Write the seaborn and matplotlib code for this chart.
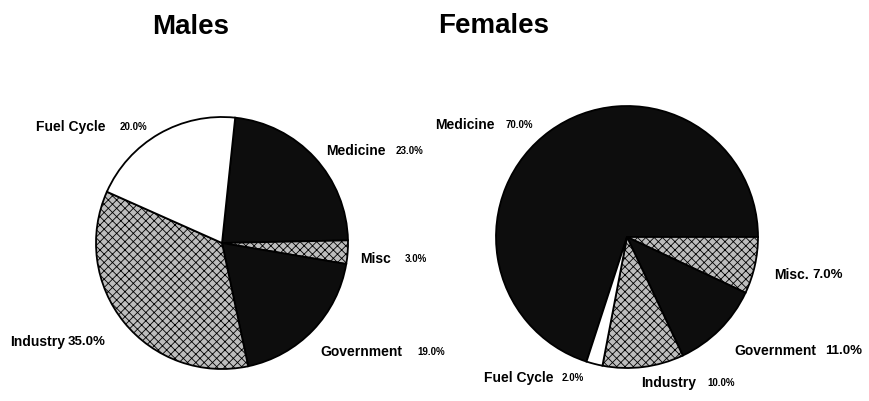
import matplotlib
matplotlib.use("Agg")
import matplotlib.pyplot as plt
import seaborn as sns

# data, in the clockwise order of the wedges
categories = ['Medicine', 'Misc', 'Government', 'Industry', 'Fuel Cycle']
males = [23.0, 3.0, 19.0, 35.0, 20.0]
females = [70.0, 7.0, 11.0, 10.0, 2.0]
female_names = ['Medicine', 'Misc.', 'Government', 'Industry', 'Fuel Cycle']

# looks of the wedges (scan: black, check pattern, white)
faces = ['#0d0d0d', '#bdbdbd', '#0d0d0d', '#bdbdbd', 'white']
hatches = ['', 'xxxx', '', 'xxxx', '']

sns.set_theme(style='white')
plt.rcParams['font.family'] = ['Liberation Sans', 'DejaVu Sans']
plt.rcParams['text.color'] = 'black'
plt.rcParams['hatch.linewidth'] = 0.6

W, H = 869, 402
fig = plt.figure(figsize=(W / 100, H / 100), dpi=100)


def pie_axes(cx, cy, r):
    ax = fig.add_axes([(cx - r) / W, (H - cy - r) / H, 2 * r / W, 2 * r / H])
    return ax


def draw_pie(ax, values, start):
    wedges, _ = ax.pie(values, startangle=start, counterclock=False, radius=1,
                       colors=faces, wedgeprops=dict(edgecolor='black', linewidth=1.3))
    for w, h in zip(wedges, hatches):
        w.set_hatch(h)
    # pie() resets the limits, so put them back to one radius
    ax.set_xlim(-1, 1)
    ax.set_ylim(-1, 1)
    ax.axis('off')
    return wedges


def label(ax, name, val, pos, name_size=10, pct_size=7, gap=6):
    t = ax.text(pos[0], pos[1], name, fontsize=name_size, ha='left', va='center',
                fontweight='bold', color='black')
    ax.annotate(f'{val:.1f}%', xy=(1, 0.5), xycoords=t, xytext=(gap, 0),
                textcoords='offset points', va='center', ha='left',
                fontsize=pct_size, fontweight='bold')


# Males
ax1 = pie_axes(222, 244, 126)
draw_pie(ax1, males, 84)
male_pos = [(0.825, 0.738), (1.095, -0.12), (0.778, -0.857), (-1.683, -0.778), (-1.476, 0.93)]
male_pct = [7, 7, 7, 9.5, 7]
male_gap = [7, 10, 11, 2, 10]
for n, v, p, s, g in zip(categories, males, male_pos, male_pct, male_gap):
    label(ax1, n, v, p, pct_size=s, gap=g)

# Females
ax2 = pie_axes(627, 238, 131)
draw_pie(ax2, females, 252)
fem_pos = [(-1.465, 0.86), (1.125, -0.285), (0.82, -0.86), (0.11, -1.105), (-1.095, -1.065)]
fem_pct = [7, 9.5, 9.5, 7, 7]
fem_gap = [8, 2, 6, 8, 6]
for n, v, p, s, g in zip(female_names, females, fem_pos, fem_pct, fem_gap):
    label(ax2, n, v, p, pct_size=s, gap=g)

fig.text(191 / W, 1 - 27 / H, 'Males', ha='center', va='center', fontsize=20, fontweight='bold')
fig.text(494 / W, 1 - 26 / H, 'Females', ha='center', va='center', fontsize=20, fontweight='bold')

fig.savefig('out.png', dpi=100, facecolor='white')
